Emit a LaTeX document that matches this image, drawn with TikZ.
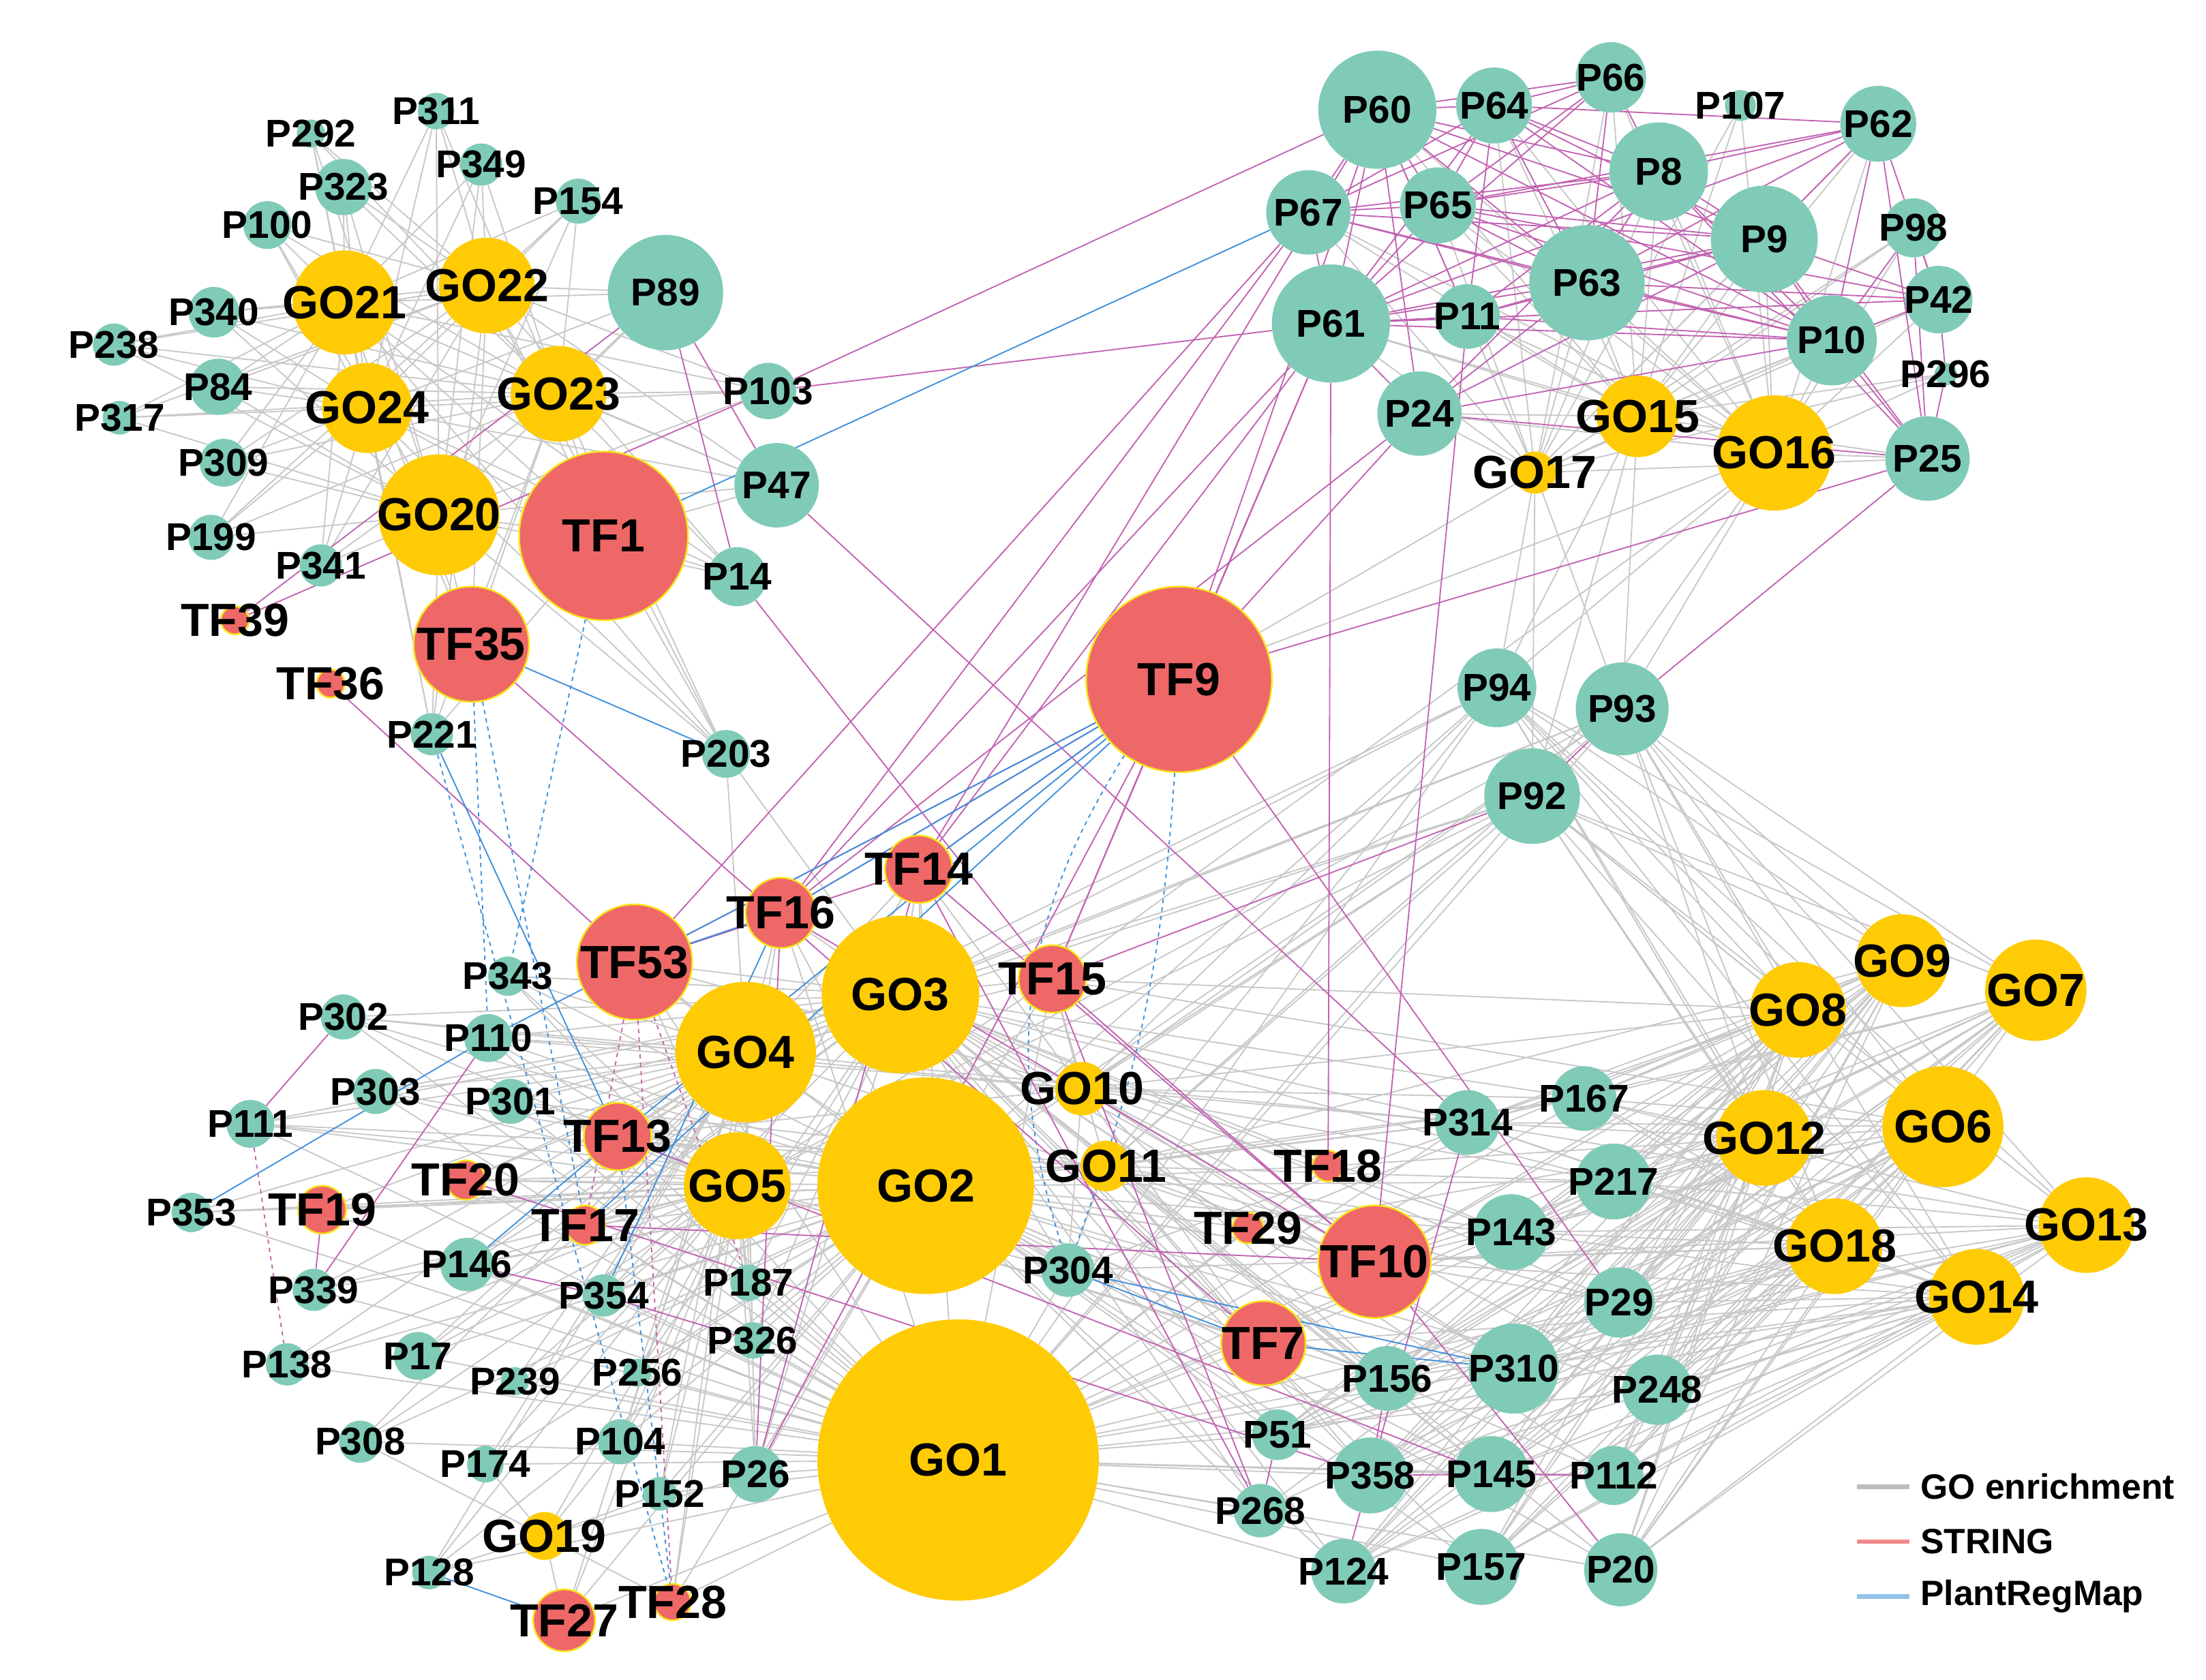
\documentclass[tikz,border=0pt]{standalone}
\usepackage{fontspec}
\setmainfont{Liberation Sans}
\pgfdeclarelayer{bg}\pgfdeclarelayer{fg}\pgfsetlayers{bg,main,fg}
\definecolor{tealn}{HTML}{7FCBB7}
\definecolor{goldn}{HTML}{FFCB05}
\definecolor{redn}{HTML}{EF6868}
\definecolor{yelb}{HTML}{F7E51A}
\definecolor{egray}{HTML}{C8C8C8}
\definecolor{emag}{HTML}{C262B2}
\definecolor{eblue}{HTML}{3D8FDB}
\definecolor{lgray}{HTML}{BDBDBD}
\definecolor{lred}{HTML}{F08A8A}
\definecolor{lblue}{HTML}{93C3EA}
\tikzset{
 pn/.style={circle,fill=tealn,draw=none,inner sep=0pt},
 gn/.style={circle,fill=goldn,draw=none,inner sep=0pt},
 rn/.style={circle,fill=redn,draw=yelb,line width=1.2pt,inner sep=0pt},
 pl/.style={inner sep=0pt,font=\bfseries\fontsize{27.5}{30}\selectfont},
 bl/.style={inner sep=0pt,font=\bfseries\fontsize{33}{36}\selectfont},
 legt/.style={inner sep=0pt,anchor=west,font=\bfseries\fontsize{25}{28}\selectfont},
 ge/.style={draw=egray,line width=0.9pt},
 se/.style={draw=emag,line width=0.9pt},
 pe/.style={draw=eblue,line width=0.9pt},
}
\newcommand\mkP[4]{\node[pn,minimum size=#4*2pt] (#1) at (#2,#3) {};\begin{pgfonlayer}{fg}\node[pl] (l#1) at (#2,#3) {#1};\end{pgfonlayer}}
\newcommand\mkG[4]{\node[gn,minimum size=#4*2pt] (#1) at (#2,#3) {};\begin{pgfonlayer}{fg}\node[bl] (l#1) at (#2,#3) {#1};\end{pgfonlayer}}
\newcommand\mkT[4]{\node[rn,minimum size=#4*2pt] (#1) at (#2,#3) {};\begin{pgfonlayer}{fg}\node[bl] (l#1) at (#2,#3) {#1};\end{pgfonlayer}}
\newcommand\hub[3]{\foreach \q in {#3}{\draw[#1] (#2) -- (\q);}}
\newcommand\hubm[3]{\foreach \q in #3 {\draw[#1] (#2) -- (\q);}}
\def\Llist{P302,P110,P303,P301,P111,P353,P146,P339,P354,P138,P17,P239,P256,P308,P174,P104,P152,P128,P187,P326,P26,P343,TF13,TF17,TF20,TF19,TF53,TF16,TF14,TF15,TF27,TF28}
\def\Rlist{P314,P167,P217,P143,P29,P310,P248,P145,P112,P157,P20,P156,P358,P124,P51,P268,P304,TF10,TF7,TF29,TF18,P92,P93,P94}
\def\Qlist{P92,P93,P94,P314,P167,P217,P143,P29,P310,P248,P145,P112,P157,P20,P156,P358,P124,TF10,P51}
\def\TLlist{P311,P292,P323,P349,P154,P100,P340,P238,P84,P317,P309,P199,P341,P89,P103,P47,P14,TF1,TF35,P221,P203}
\def\TRlist{P60,P64,P66,P107,P62,P67,P65,P8,P9,P98,P61,P11,P63,P42,P10,P296,P24,P25,P94,P93,P92}
\begin{document}
\begin{tikzpicture}[x=1pt,y=-1pt]
\useasboundingbox (0,0) rectangle (1568,1194);
% ---- teal protein nodes
\mkP{P311}{310}{79}{13}
\mkP{P292}{221}{95}{10}
\mkP{P323}{244}{133}{20}
\mkP{P349}{342}{117}{15}
\mkP{P154}{411}{143}{16}
\mkP{P100}{190}{160}{17}
\mkP{P340}{152}{222}{18}
\mkP{P238}{81}{245}{15}
\mkP{P84}{155}{275}{20}
\mkP{P317}{85}{297}{12}
\mkP{P309}{159}{329}{17}
\mkP{P199}{150}{382}{16}
\mkP{P341}{228}{402}{15}
\mkP{P221}{307}{522}{15}
\mkP{P89}{473}{208}{41}
\mkP{P103}{546}{278}{20}
\mkP{P47}{552}{345}{30}
\mkP{P14}{524}{410}{21}
\mkP{P203}{516}{536}{17}
\mkP{P60}{979}{78}{42}
\mkP{P64}{1062}{75}{27}
\mkP{P66}{1145}{55}{25}
\mkP{P107}{1237}{75}{11}
\mkP{P62}{1335}{88}{27}
\mkP{P67}{930}{151}{30}
\mkP{P65}{1022}{146}{27}
\mkP{P8}{1179}{122}{35}
\mkP{P9}{1254}{170}{38}
\mkP{P98}{1360}{162}{21}
\mkP{P61}{946}{230}{42}
\mkP{P11}{1043}{225}{23}
\mkP{P63}{1128}{201}{41}
\mkP{P42}{1378}{213}{24}
\mkP{P10}{1302}{242}{32}
\mkP{P296}{1383}{266}{8}
\mkP{P24}{1009}{294}{30}
\mkP{P25}{1370}{326}{30}
\mkP{P94}{1064}{489}{28}
\mkP{P93}{1153}{504}{33}
\mkP{P92}{1089}{566}{34}
\mkP{P343}{361}{694}{14}
\mkP{P302}{244}{723}{16}
\mkP{P110}{347}{738}{17}
\mkP{P303}{267}{776}{16}
\mkP{P301}{363}{783}{16}
\mkP{P111}{178}{799}{17}
\mkP{P353}{136}{862}{14}
\mkP{P146}{332}{899}{19}
\mkP{P339}{223}{917}{15}
\mkP{P354}{429}{921}{15}
\mkP{P138}{204}{970}{15}
\mkP{P17}{297}{964}{17}
\mkP{P239}{366}{982}{10}
\mkP{P256}{453}{976}{10}
\mkP{P308}{256}{1025}{15}
\mkP{P174}{345}{1041}{13}
\mkP{P104}{441}{1025}{16}
\mkP{P152}{469}{1062}{12}
\mkP{P128}{305}{1118}{12}
\mkP{P187}{532}{912}{13}
\mkP{P326}{535}{953}{13}
\mkP{P26}{537}{1048}{20}
\mkP{P304}{759}{903}{19}
\mkP{P156}{986}{980}{23}
\mkP{P51}{908}{1020}{18}
\mkP{P358}{974}{1049}{27}
\mkP{P268}{896}{1074}{19}
\mkP{P124}{955}{1117}{23}
\mkP{P314}{1043}{798}{23}
\mkP{P167}{1126}{781}{23}
\mkP{P217}{1147}{840}{27}
\mkP{P143}{1074}{876}{27}
\mkP{P29}{1151}{926}{25}
\mkP{P310}{1076}{973}{32}
\mkP{P248}{1178}{988}{25}
\mkP{P145}{1060}{1048}{27}
\mkP{P112}{1147}{1049}{21}
\mkP{P157}{1053}{1114}{27}
\mkP{P20}{1152}{1116}{26}
% ---- GO nodes
\mkG{GO1}{681}{1038}{100}
\mkG{GO2}{658}{843}{77}
\mkG{GO3}{640}{707}{56}
\mkG{GO4}{530}{748}{50}
\mkG{GO5}{524}{843}{38}
\mkG{GO10}{769}{774}{19}
\mkG{GO11}{786}{829}{18}
\mkG{GO19}{387}{1092}{17}
\mkG{GO20}{312}{366}{43}
\mkG{GO21}{245}{215}{37}
\mkG{GO22}{346}{203}{34}
\mkG{GO23}{397}{280}{34}
\mkG{GO24}{261}{290}{32}
\mkG{GO15}{1164}{296}{29}
\mkG{GO16}{1261}{322}{41}
\mkG{GO17}{1091}{336}{15}
\mkG{GO6}{1381}{801}{43}
\mkG{GO7}{1447}{704}{36}
\mkG{GO8}{1278}{718}{34}
\mkG{GO9}{1352}{683}{33}
\mkG{GO12}{1254}{809}{34}
\mkG{GO13}{1483}{871}{34}
\mkG{GO14}{1405}{922}{34}
\mkG{GO18}{1304}{886}{34}
% ---- TF nodes
\mkT{TF1}{429}{381}{60}
\mkT{TF9}{838}{483}{66}
\mkT{TF35}{335}{458}{41}
\mkT{TF39}{167}{441}{10}
\mkT{TF36}{235}{486}{10}
\mkT{TF53}{451}{684}{41}
\mkT{TF16}{555}{649}{25}
\mkT{TF14}{653}{618}{24}
\mkT{TF15}{748}{696}{24}
\mkT{TF13}{439}{808}{24}
\mkT{TF20}{331}{839}{14}
\mkT{TF19}{229}{860}{17}
\mkT{TF17}{416}{871}{14}
\mkT{TF18}{944}{829}{11}
\mkT{TF29}{887}{873}{11}
\mkT{TF10}{977}{897}{40}
\mkT{TF7}{898}{955}{30}
\mkT{TF27}{401}{1152}{22}
\mkT{TF28}{478}{1139}{13}
% ---- edges
\begin{pgfonlayer}{bg}
\fill[white] (0,0) rectangle (1568,1194);
% GO enrichment (grey)
\foreach \g in {GO20,GO21,GO22,GO23,GO24}{\hubm{ge}{\g}{\TLlist}}
\hub{ge}{TF1}{P203,P14,P221,P47}
\hub{ge}{P203}{GO3,GO4}
\hubm{ge}{GO1}{\Llist}\hubm{ge}{GO1}{\Rlist}
\hubm{ge}{GO2}{\Llist}\hubm{ge}{GO2}{\Rlist}
\hubm{ge}{GO3}{\Rlist}
\hub{ge}{GO3}{P302,P110,P303,P301,P111,P146,P354,P17,P256,P104,P187,P326,P26,P343,TF13,TF17,TF20,TF53,TF16,TF14,TF15}
\hubm{ge}{GO4}{\Llist}
\hub{ge}{GO4}{P92,P93,P94,P304,TF10,P314}
\hubm{ge}{GO5}{\Llist}
\hub{ge}{GO5}{P92,P93,P304,P156,TF7}
\hub{ge}{GO10}{P92,P93,P94,P304,TF15,TF14,P314,P167,P217,P143,TF10,TF7,P156,P310,P110,P302,TF53,TF13}
\hub{ge}{GO11}{P92,P93,P94,P304,TF15,P314,P167,P217,P143,P29,TF10,TF7,P156,P358,P145,P301,P111,TF13,TF20}
\hub{ge}{GO19}{P26,P152,P104,TF27,P128,P308,P174,TF28,P256}
\foreach \g in {GO6,GO7,GO8,GO9,GO12,GO13,GO14,GO18}{\hubm{ge}{\g}{\Qlist}}
\hub{ge}{GO8}{P304,TF15,GO10}
\hub{ge}{GO12}{TF7,TF29,P268}
\hub{ge}{GO6}{TF15,TF18}
\hub{ge}{GO9}{TF29,GO11}
\hub{ge}{GO18}{P268,P304}
\hub{ge}{GO14}{P51,TF7}
\foreach \g in {GO15,GO16,GO17}{\hubm{ge}{\g}{\TRlist}}
\hub{ge}{GO16}{TF9,TF15}
\hub{ge}{GO17}{TF9}
% STRING (magenta)
\foreach \a/\b in {P60/P64,P60/P8,P60/P9,P60/P63,P60/P10,P60/P65,P60/P67,P60/P61,P60/P11,P60/P24,P60/P66,
 P64/P66,P64/P8,P64/P9,P64/P63,P64/P10,P64/P61,P64/P62,P64/P65,P64/P11,P64/P67,
 P66/P8,P66/P61,P66/P63,P66/P65,P66/P67,
 P62/P8,P62/P9,P62/P10,P62/P25,P62/P63,P62/P61,P62/P42,P62/P65,
 P67/P65,P67/P8,P67/P9,P67/P63,P67/P61,P67/P10,
 P65/P8,P65/P9,P65/P63,P65/P61,P65/P10,P65/P42,
 P8/P63,P8/P61,P8/P9,P8/P10,P8/P24,P8/P11,P8/P25,
 P9/P63,P9/P61,P9/P10,P9/P42,P9/P25,P9/P24,P9/P11,
 P63/P61,P63/P10,P63/P24,P63/P42,P63/P11,
 P61/P10,P61/P42,P61/P11,P61/P24,
 P10/P24,P10/P25,P10/P42,P10/P98,P10/P11,
 P42/P98,P42/P296,P296/P25,P98/P25,P24/P25,
 P60/P103,P61/P103,P67/TF16,P61/TF16,P60/TF14,P61/TF14,P67/TF53,P61/TF9,P60/TF9,P61/TF15,
 P24/TF9,P24/TF16,P61/TF18,P11/TF10,P25/TF9,P25/P93,P92/TF15,P93/P92,
 TF9/TF16,TF9/TF14,TF9/TF53,TF9/TF15,TF9/P29,
 TF39/P89,TF39/P103,P89/P14,P89/P47,TF36/TF53,TF35/TF7,P14/TF15,P47/P314,
 TF19/P339,P339/P110,P302/P111,P146/P354,P354/P326,P26/TF9,P26/TF14,P26/TF16,
 TF53/TF16,TF53/TF14,TF15/TF10,TF16/TF10,TF14/TF10,TF17/TF10,TF13/P145,TF20/P358,
 TF15/P268,TF14/P268,TF10/P20,P358/P145,P145/P112,P156/P358,P51/P268,P358/P124,P314/P358}
 {\draw[se] (\a) -- (\b);}
\foreach \a/\b in {P111/P138,TF53/TF28,TF53/P187,TF53/TF17}{\draw[se,dashed] (\a) -- (\b);}
% PlantRegMap (blue)
\foreach \a/\b in {TF1/P67,TF35/P203,P221/TF13,TF53/P110,P110/P353,TF16/TF53,TF9/TF16,TF9/TF53,
 TF9/TF14,TF9/TF13,TF9/TF17,TF13/P146,TF16/P354,TF7/P304,TF7/P310,P304/P310,TF27/P128}
 {\draw[pe] (\a) -- (\b);}
\foreach \a/\b in {TF1/P343,TF35/P110,TF35/TF17,P221/TF28,TF13/TF28}{\draw[pe,dashed] (\a) -- (\b);}
\draw[pe,dashed] (TF9) to[bend right=25] (P304);
\draw[pe,dashed] (TF9) to[bend left=8] (P304);
\end{pgfonlayer}
% ---- legend
\coordinate (lg1a) at (1320,1057); \coordinate (lg1b) at (1357,1057);
\coordinate (lg2a) at (1320,1096); \coordinate (lg2b) at (1357,1096);
\coordinate (lg3a) at (1320,1135); \coordinate (lg3b) at (1357,1135);
\draw[lgray,line width=3pt] (lg1a) -- (lg1b);
\draw[lred,line width=3pt] (lg2a) -- (lg2b);
\draw[lblue,line width=3pt] (lg3a) -- (lg3b);
\node[legt] (lg1t) at (1365,1057) {GO enrichment};
\node[legt] (lg2t) at (1365,1096) {STRING};
\node[legt] (lg3t) at (1365,1135) {PlantRegMap};
\end{tikzpicture}
\end{document}
